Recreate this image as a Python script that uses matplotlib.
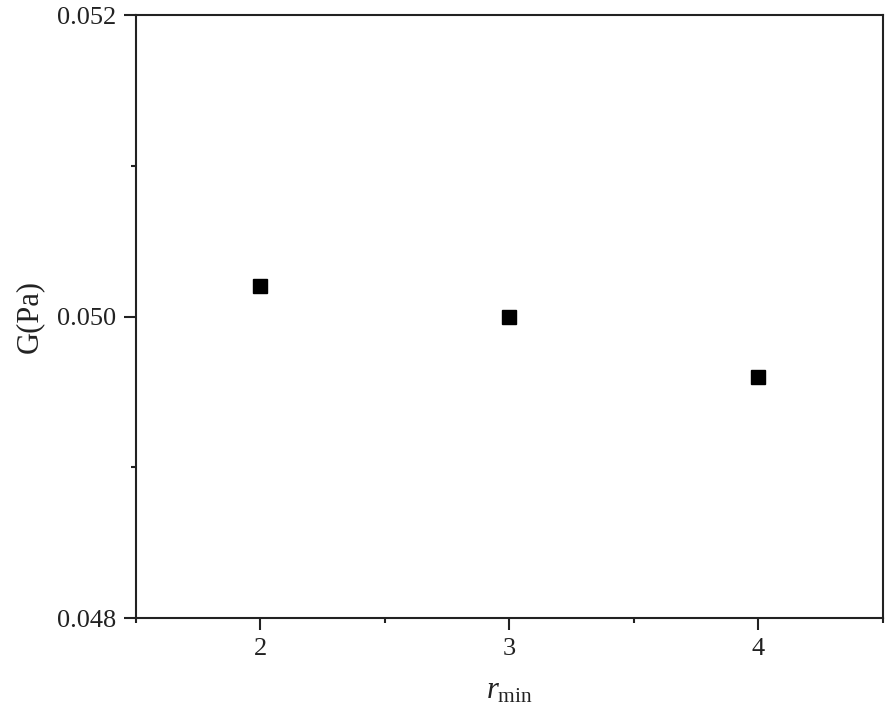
import matplotlib
matplotlib.use('Agg')
import matplotlib.pyplot as plt
from matplotlib.ticker import MultipleLocator, FormatStrFormatter

# data
r_min = [2, 3, 4]
G = [0.0502, 0.0500, 0.0496]

plt.rcParams['font.family'] = ['Liberation Serif', 'DejaVu Serif']
plt.rcParams['mathtext.fontset'] = 'custom'
plt.rcParams['mathtext.rm'] = 'Liberation Serif'
plt.rcParams['mathtext.it'] = 'Liberation Serif:italic'

fig = plt.figure(figsize=(8.91, 7.22), dpi=100)
ax = fig.add_axes([0.1526, 0.144, 0.8384, 0.835])

ax.plot(r_min, G, linestyle='none', marker='s', markersize=10, color='black')

ax.set_xlim(1.5, 4.5)
ax.set_ylim(0.048, 0.052)
ax.xaxis.set_major_locator(MultipleLocator(1))
ax.xaxis.set_minor_locator(MultipleLocator(0.5))
ax.yaxis.set_major_locator(MultipleLocator(0.002))
ax.yaxis.set_minor_locator(MultipleLocator(0.001))
ax.yaxis.set_major_formatter(FormatStrFormatter('%.3f'))

for s in ax.spines.values():
    s.set_linewidth(1.5)
    s.set_color('#222222')

ax.tick_params(which='both', direction='out', top=False, right=False,
               width=1.5, color='#222222', labelsize=19, labelcolor='#222222')
ax.tick_params(which='major', length=8.5, pad=6)
ax.tick_params(which='minor', length=3.5)

ax.set_ylabel('G(Pa)', fontsize=22, color='#222222', labelpad=9)
ax.set_xlabel(r'$r_{\mathrm{min}}$', fontsize=22, color='#222222', labelpad=12)

fig.savefig('out.png', dpi=100)
